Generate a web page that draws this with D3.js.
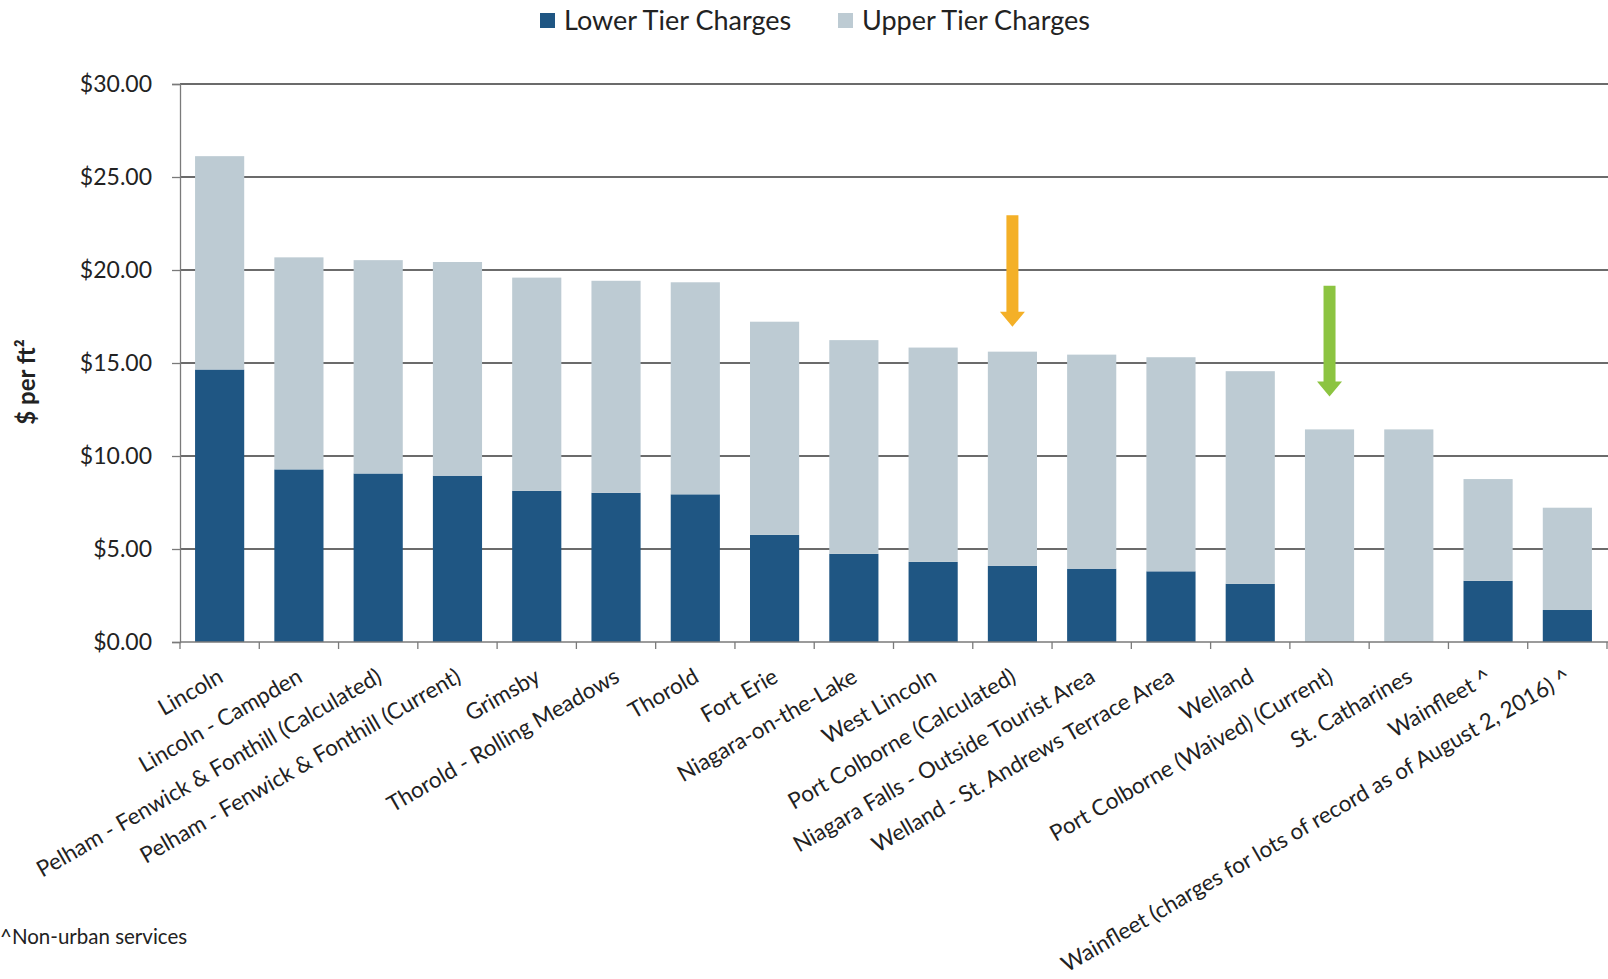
<!DOCTYPE html>
<html>
<head>
<meta charset="utf-8">
<script src="https://cdn.jsdelivr.net/npm/d3@7"></script>
<style>
  body { margin: 0; background: #fff; }
  svg { display: block; }
  text { font-family: Lato, "Open Sans", sans-serif; fill: #222; }
</style>
</head>
<body>
<svg id="chart" width="1608" height="979"></svg>
<script>
// Development charges per square foot, by municipality / service area
const categories = [
  "Lincoln",
  "Lincoln - Campden",
  "Pelham - Fenwick & Fonthill (Calculated)",
  "Pelham - Fenwick & Fonthill (Current)",
  "Grimsby",
  "Thorold - Rolling Meadows",
  "Thorold",
  "Fort Erie",
  "Niagara-on-the-Lake",
  "West Lincoln",
  "Port Colborne (Calculated)",
  "Niagara Falls - Outside Tourist Area",
  "Welland - St. Andrews Terrace Area",
  "Welland",
  "Port Colborne (Waived) (Current)",
  "St. Catharines",
  "Wainfleet ^",
  "Wainfleet (charges for lots of record as of August 2, 2016) ^"
];
const lowerTier = [14.65, 9.28, 9.06, 8.94, 8.13, 8.02, 7.94, 5.76, 4.74, 4.31, 4.09, 3.94, 3.80, 3.13, 0, 0, 3.29, 1.72];
const upperTier = [11.47, 11.40, 11.47, 11.49, 11.46, 11.40, 11.40, 11.46, 11.49, 11.52, 11.52, 11.51, 11.51, 11.43, 11.43, 11.43, 5.47, 5.50];
const seriesNames = ["Lower Tier Charges", "Upper Tier Charges"];
const seriesColors = ["#1f5683", "#bdcbd3"];
const yTicks = [0, 5, 10, 15, 20, 25, 30];

// Highlight arrows (start and end values in $ per ft²)
const arrowNotes = [
  { category: "Port Colborne (Calculated)", from: 22.95, to: 16.95, color: "#f4b027" },
  { category: "Port Colborne (Waived) (Current)", from: 19.15, to: 13.2, color: "#8cc441" }
];

const svg = d3.select("#chart");

const plot = { left: 180, right: 1607, top: 84, bottom: 642 };

const x = d3.scaleBand()
  .domain(categories)
  .range([plot.left, plot.right])
  .paddingInner(0.38)
  .paddingOuter(0.19);

const y = d3.scaleLinear()
  .domain([0, 30])
  .range([plot.bottom, plot.top]);

// Gridlines
svg.append("g")
  .selectAll("line")
  .data(yTicks.filter(d => d > 0))
  .join("line")
  .attr("x1", plot.left)
  .attr("x2", 1608)
  .attr("y1", d => y(d))
  .attr("y2", d => y(d))
  .attr("stroke", "#3a3a3a")
  .attr("stroke-width", 1.3);

// Stacked bars
const rows = categories.map((c, i) => ({
  category: c,
  [seriesNames[0]]: lowerTier[i],
  [seriesNames[1]]: upperTier[i]
}));
const stacked = d3.stack().keys(seriesNames)(rows);

svg.append("g")
  .selectAll("g")
  .data(stacked)
  .join("g")
  .attr("fill", (d, i) => seriesColors[i])
  .selectAll("rect")
  .data(d => d)
  .join("rect")
  .attr("x", d => x(d.data.category))
  .attr("width", x.bandwidth())
  .attr("y", d => y(d[1]))
  .attr("height", d => y(d[0]) - y(d[1]));

// Y axis
const yAxis = svg.append("g")
  .attr("transform", `translate(${plot.left},0)`)
  .call(d3.axisLeft(y).tickValues(yTicks).tickSize(8).tickPadding(20)
    .tickFormat(d => "$" + d.toFixed(2)));
yAxis.select(".domain").attr("stroke", "#7a7a7a").attr("stroke-width", 1.3);
yAxis.selectAll(".tick line").attr("stroke", "#7a7a7a").attr("stroke-width", 1.3);
yAxis.selectAll(".tick text")
  .attr("font-size", 23)
  .attr("font-family", "Lato, sans-serif")
  .attr("fill", "#222");

// X axis baseline and category ticks
const xAxis = svg.append("g");
xAxis.append("line")
  .attr("x1", plot.left).attr("x2", 1608)
  .attr("y1", y(0)).attr("y2", y(0))
  .attr("stroke", "#7a7a7a").attr("stroke-width", 1.3);
const boundaries = categories.map(c => x(c) - x.step() * x.paddingInner() / 2).concat([plot.right]);
xAxis.selectAll("line.tick")
  .data(boundaries)
  .join("line")
  .attr("class", "tick")
  .attr("x1", d => d).attr("x2", d => d)
  .attr("y1", y(0)).attr("y2", y(0) + 7)
  .attr("stroke", "#7a7a7a").attr("stroke-width", 1.3);

// Rotated category labels
xAxis.selectAll("text")
  .data(categories)
  .join("text")
  .attr("transform", d => `translate(${x(d) + x.bandwidth() / 2 + 5},${y(0) + 39}) rotate(-30)`)
  .attr("text-anchor", "end")
  .attr("font-size", 22.4)
  .text(d => d);

// Y axis title
svg.append("text")
  .attr("transform", `translate(35,382) rotate(-90)`)
  .attr("text-anchor", "middle")
  .attr("font-family", "'Liberation Sans', Arial, sans-serif")
  .attr("font-weight", "bold")
  .attr("font-size", 24)
  .text("$ per ft²");

// Arrows
const shaftW = 12, headW = 25, headH = 15;
svg.append("g")
  .selectAll("path")
  .data(arrowNotes)
  .join("path")
  .attr("fill", d => d.color)
  .attr("d", d => {
    const cx = x(d.category) + x.bandwidth() / 2;
    const y0 = y(d.from), y1 = y(d.to), yh = y1 - headH;
    return `M${cx - shaftW / 2},${y0}H${cx + shaftW / 2}V${yh}H${cx + headW / 2}L${cx},${y1}L${cx - headW / 2},${yh}H${cx - shaftW / 2}Z`;
  });

// Legend
const legendItems = [
  { name: seriesNames[0], color: seriesColors[0], x: 540 },
  { name: seriesNames[1], color: seriesColors[1], x: 838 }
];
const legend = svg.append("g");
legend.selectAll("rect")
  .data(legendItems)
  .join("rect")
  .attr("x", d => d.x).attr("y", 13)
  .attr("width", 15).attr("height", 15)
  .attr("fill", d => d.color);
legend.selectAll("text")
  .data(legendItems)
  .join("text")
  .attr("x", d => d.x + 24)
  .attr("y", 30)
  .attr("font-size", 27)
  .text(d => d.name);

// Footnote
svg.append("text")
  .attr("x", 0)
  .attr("y", 944)
  .attr("font-size", 20.5)
  .text("^Non-urban services");
</script>
</body>
</html>
